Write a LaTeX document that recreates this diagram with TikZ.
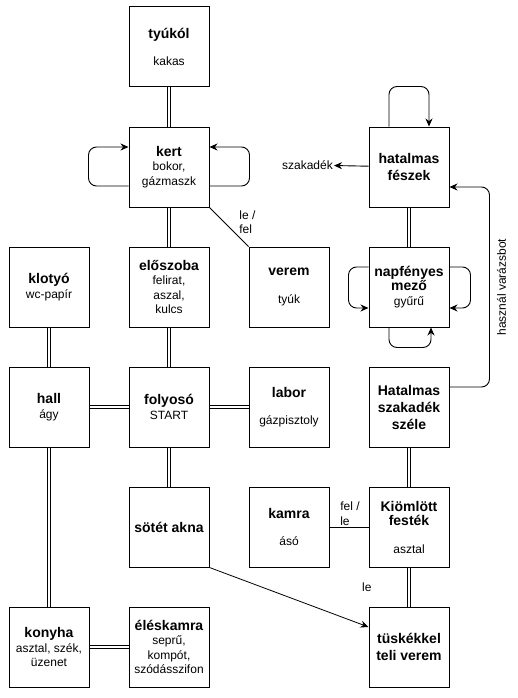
\documentclass[tikz,border=0pt]{standalone}
\usepackage{fontspec}
\usetikzlibrary{arrows.meta}
\setmainfont{Liberation Sans}
\newcommand{\ttl}[1]{{\fontsize{14}{17}\selectfont\bfseries #1}}
\begin{document}
\begin{tikzpicture}
    [
    x=1pt,y=-1pt,
    room/.style={rectangle,draw,line width=1pt,inner sep=0pt,minimum size=80pt,align=center,font=\fontsize{12}{14.5}\selectfont},
    bigroom/.style={room,font=\fontsize{14}{17}\selectfont\bfseries},
    link/.style={line width=0.9pt,double,double distance=2.6pt},
    passage/.style={line width=0.8pt},
    oneway/.style={-{Stealth[length=8pt,width=7pt]},line width=0.9pt},
    move/.style={oneway,rounded corners=8pt},
    tag/.style={inner sep=1pt,align=left,font=\fontsize{12}{14.5}\selectfont}
    ]
    \useasboundingbox (0,0) rectangle (517,698);
    \node (tyukol) at (169,47) [room] {\ttl{tyúkól}\\[13pt]kakas};
    \node (kert) at (169,167) [room] {\ttl{kert}\\bokor,\\gázmaszk};
    \node (eloszoba) at (169,287) [room] {\ttl{előszoba}\\felirat,\\aszal,\\kulcs};
    \node (klotyo) at (49,287) [room] {\ttl{klotyó}\\wc-papír};
    \node (verem) at (289,287) [room] {\ttl{verem}\\[13pt]tyúk};
    \node (mezo) at (409,287) [room] {\ttl{napfényes}\\\ttl{mező}\\gyűrű};
    \node (feszek) at (409,167) [bigroom] {hatalmas\\fészek};
    \node (hall) at (49,407) [room] {\ttl{hall}\\ágy};
    \node (folyoso) at (169,407) [room] {\ttl{folyosó}\\START};
    \node (labor) at (289,407) [room] {\ttl{labor}\\[13pt]gázpisztoly};
    \node (szele) at (409,407) [bigroom] {Hatalmas\\szakadék\\széle};
    \node (akna) at (169,527) [bigroom] {sötét akna};
    \node (kamra) at (289,527) [room] {\ttl{kamra}\\[13pt]ásó};
    \node (festek) at (409,527) [room] {\ttl{Kiömlött}\\\ttl{festék}\\[13pt]asztal};
    \node (konyha) at (49,647) [room] {\ttl{konyha}\\asztal, szék,\\üzenet};
    \node (eles) at (169,647) [room] {\ttl{éléskamra}\\seprű,\\kompót,\\szódásszifon};
    \node (tuske) at (409,647) [bigroom] {tüskékkel\\teli verem};
    \node (szakadek) at (334,165) [tag,anchor=east] {szakadék};
    % double passages
    \draw [link] (tyukol) -- (kert);
    \draw [link] (kert) -- (eloszoba);
    \draw [link] (eloszoba) -- (folyoso);
    \draw [link] (klotyo) -- (hall);
    \draw [link] (hall) -- (folyoso);
    \draw [link] (folyoso) -- (labor);
    \draw [link] (folyoso) -- (akna);
    \draw [link] (hall) -- (konyha);
    \draw [link] (konyha) -- (eles);
    \draw [link] (feszek) -- (mezo);
    \draw [link] (szele) -- (festek);
    \draw [link] (festek) -- node [tag,left=36pt] {le} (tuske);
    % single passages
    \draw [passage] (kert.south east) -- node [tag,anchor=west,xshift=9pt,yshift=5pt] {le /\\fel} (verem.north west);
    \draw [passage] (kamra) -- node [tag,above,xshift=1pt] {fel /\\le} (festek);
    % one way moves
    \draw [oneway,line width=0.8pt] (akna.south east) -- ([yshift=20pt]tuske.west);
    \draw [oneway] (feszek) -- (szakadek);
    \draw [move] ([yshift=-19pt]kert.west) -- ++(-40,0) |- ([yshift=20pt]kert.west);
    \draw [move] ([yshift=-19pt]kert.east) -- ++(40,0) |- ([yshift=20pt]kert.east);
    \draw [move] ([xshift=-20pt]feszek.north) -- ++(0,-40) -| ([xshift=20pt]feszek.north);
    \draw [move] ([yshift=20pt]mezo.west) -- ++(-20,0) |- ([yshift=-21pt]mezo.west);
    \draw [move] ([yshift=20pt]mezo.east) -- ++(21,0) |- ([yshift=-21pt]mezo.east);
    \draw [move] ([xshift=-20pt]mezo.south) -- ++(0,20) -| ([xshift=22pt]mezo.south);
    \draw [move] ([yshift=20pt]szele.east) -- ++(40,0) |- node [tag,pos=0.25,rotate=90,anchor=north,inner sep=7pt] {használ varázsbot} ([yshift=-20pt]feszek.east);
  \end{tikzpicture}
\end{document}
